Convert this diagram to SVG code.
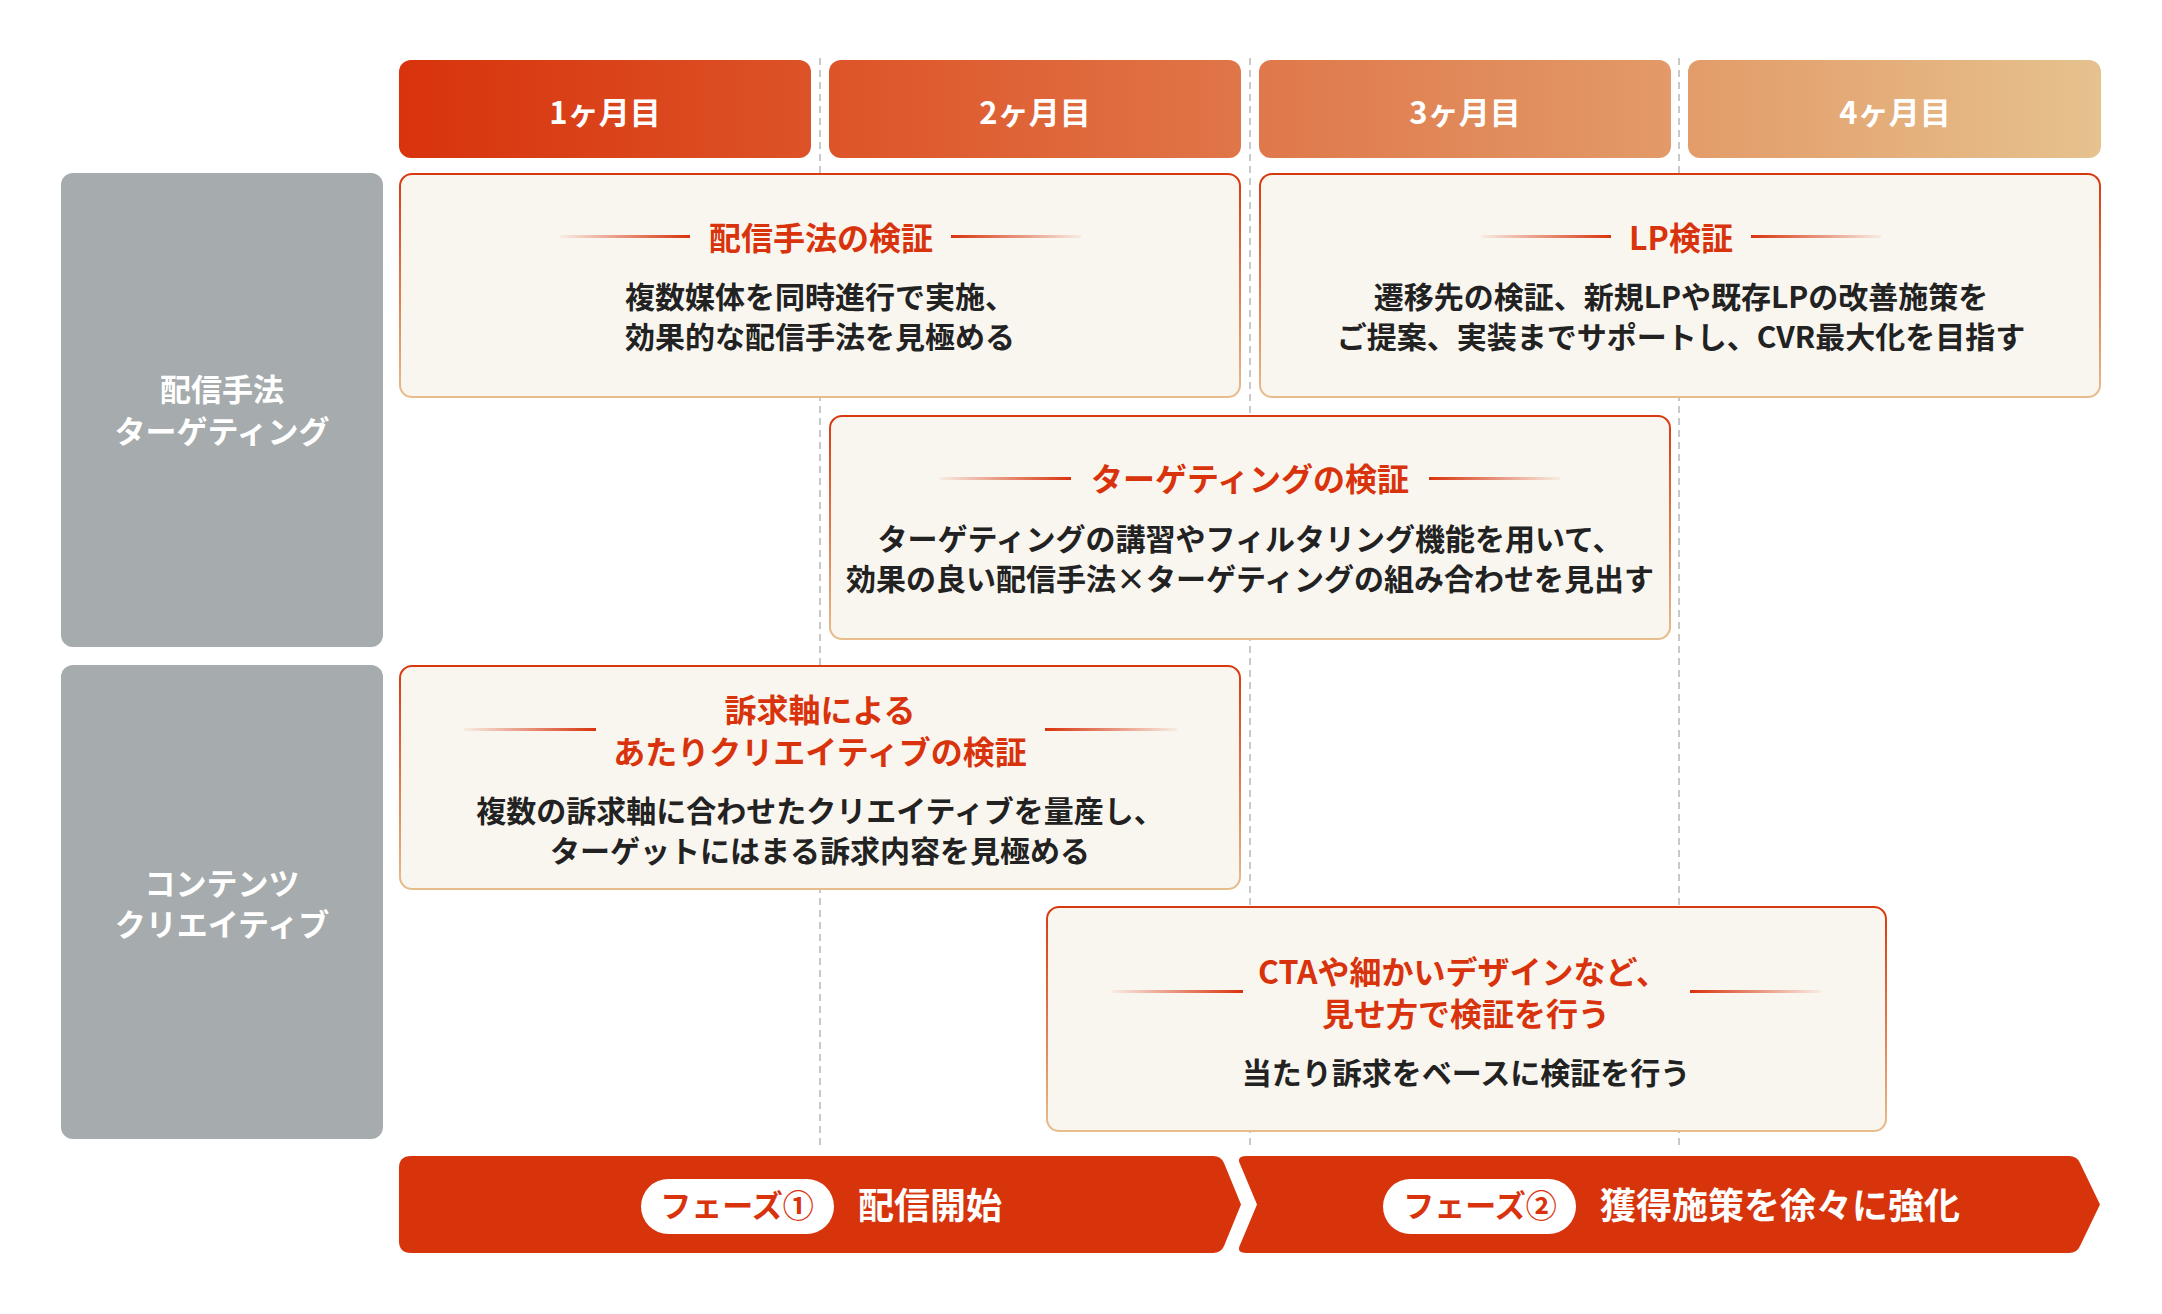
<svg xmlns="http://www.w3.org/2000/svg" width="2162" height="1314" viewBox="0 0 2162 1314">
<defs>
<linearGradient id="hdr" gradientUnits="userSpaceOnUse" x1="399" y1="0" x2="2101" y2="0">
<stop offset="0" stop-color="#d8330c"/>
<stop offset="0.3" stop-color="#de5a2e"/>
<stop offset="0.55" stop-color="#e07e50"/>
<stop offset="0.8" stop-color="#e3a26f"/>
<stop offset="1" stop-color="#e6c28e"/>
</linearGradient>
<linearGradient id="bord" x1="0" y1="0" x2="0" y2="1">
<stop offset="0" stop-color="#d8380e"/>
<stop offset="0.5" stop-color="#e0784a"/>
<stop offset="1" stop-color="#e8bd8e"/>
</linearGradient>
<linearGradient id="decL" x1="0" y1="0" x2="1" y2="0">
<stop offset="0" stop-color="#d8330c" stop-opacity="0.05"/>
<stop offset="1" stop-color="#d8330c"/>
</linearGradient>
<linearGradient id="decR" x1="0" y1="0" x2="1" y2="0">
<stop offset="0" stop-color="#d8330c"/>
<stop offset="1" stop-color="#d8330c" stop-opacity="0.05"/>
</linearGradient>
<style>
text{font-family:"Noto Sans CJK JP","Noto Sans",sans-serif;font-weight:700;text-anchor:middle}
.hd{fill:url(#hdr)}
.ht{fill:#ffffff;font-size:31px}
.side{fill:#a6abad}
.st{fill:#ffffff;font-size:31px}
.box{fill:#f9f6ef;stroke:url(#bord);stroke-width:2}
.ti{fill:#d8330c;font-size:32px}
.bd{fill:#222222;font-size:30px}
.dl{fill:url(#decL)}
.dr{fill:url(#decR)}
.grid{stroke:#c9c9c9;stroke-width:2;stroke-dasharray:7 5;fill:none}
.bar{fill:#d7340c}
.pill{fill:#ffffff}
.pt{fill:#d8330c;font-size:31px}
.bt{fill:#ffffff;font-size:36px;text-anchor:start}
</style>
</defs>
<rect width="2162" height="1314" fill="#ffffff"/>
<g id="grid">
<line class="grid" x1="820" y1="58" x2="820" y2="1150"/>
<line class="grid" x1="1250" y1="58" x2="1250" y2="1150"/>
<line class="grid" x1="1679" y1="58" x2="1679" y2="1150"/>
</g>
<g id="header-1"><rect class="hd" x="399" y="60" width="412" height="98" rx="12"/><text class="ht" x="605" y="124">1ヶ月目</text></g>
<g id="header-2"><rect class="hd" x="829" y="60" width="412" height="98" rx="12"/><text class="ht" x="1035" y="124">2ヶ月目</text></g>
<g id="header-3"><rect class="hd" x="1259" y="60" width="412" height="98" rx="12"/><text class="ht" x="1465" y="124">3ヶ月目</text></g>
<g id="header-4"><rect class="hd" x="1688" y="60" width="413" height="98" rx="12"/><text class="ht" x="1895" y="124">4ヶ月目</text></g>
<g id="row-1"><rect class="side" x="61" y="173" width="322" height="474" rx="12"/><text class="st" x="222" y="401">配信手法</text><text class="st" x="222" y="443">ターゲティング</text></g>
<g id="row-2"><rect class="side" x="61" y="665" width="322" height="474" rx="12"/><text class="st" x="222" y="895">コンテンツ</text><text class="st" x="222" y="936">クリエイティブ</text></g>
<g id="box-method">
<rect class="box" x="400" y="174" width="840" height="223" rx="12"/>
<rect class="dl" x="560" y="235" width="130" height="3"/>
<rect class="dr" x="951" y="235" width="130" height="3"/>
<text class="ti" x="821" y="250">配信手法の検証</text>
<text class="bd" x="820" y="308">複数媒体を同時進行で実施、</text>
<text class="bd" x="820" y="348">効果的な配信手法を見極める</text>
</g>
<g id="box-lp">
<rect class="box" x="1260" y="174" width="840" height="223" rx="12"/>
<rect class="dl" x="1481" y="235" width="130" height="3"/>
<rect class="dr" x="1751" y="235" width="130" height="3"/>
<text class="ti" x="1681" y="250">LP検証</text>
<text class="bd" x="1681" y="308">遷移先の検証、新規LPや既存LPの改善施策を</text>
<text class="bd" x="1681" y="348">ご提案、実装までサポートし、CVR最大化を目指す</text>
</g>
<g id="box-targeting">
<rect class="box" x="830" y="416" width="840" height="223" rx="12"/>
<rect class="dl" x="940" y="477" width="131" height="3"/>
<rect class="dr" x="1429" y="477" width="131" height="3"/>
<text class="ti" x="1250" y="491">ターゲティングの検証</text>
<text class="bd" x="1250" y="550">ターゲティングの講習やフィルタリング機能を用いて、</text>
<text class="bd" x="1250" y="590">効果の良い配信手法×ターゲティングの組み合わせを見出す</text>
</g>
<g id="box-appeal">
<rect class="box" x="400" y="666" width="840" height="223" rx="12"/>
<rect class="dl" x="464" y="728" width="132" height="3"/>
<rect class="dr" x="1045" y="728" width="132" height="3"/>
<text class="ti" x="820" y="722">訴求軸による</text>
<text class="ti" x="820" y="764">あたりクリエイティブの検証</text>
<text class="bd" x="820" y="822">複数の訴求軸に合わせたクリエイティブを量産し、</text>
<text class="bd" x="820" y="862">ターゲットにはまる訴求内容を見極める</text>
</g>
<g id="box-cta">
<rect class="box" x="1047" y="907" width="839" height="224" rx="12"/>
<rect class="dl" x="1112" y="990" width="131" height="3"/>
<rect class="dr" x="1690" y="990" width="131" height="3"/>
<text class="ti" x="1463" y="984">CTAや細かいデザインなど、</text>
<text class="ti" x="1466" y="1026">見せ方で検証を行う</text>
<text class="bd" x="1466" y="1084">当たり訴求をベースに検証を行う</text>
</g>
<g id="phase-1">
<path class="bar" d="M 411,1156 H 1213 Q 1221,1156 1224,1163 L 1241,1204.5 L 1224,1246 Q 1221,1253 1213,1253 H 411 Q 399,1253 399,1241 V 1168 Q 399,1156 411,1156 Z"/>
<rect class="pill" x="641" y="1179" width="193" height="55" rx="27.5"/>
<text class="pt" x="737" y="1217">フェーズ①</text>
<text class="bt" x="858" y="1219">配信開始</text>
</g>
<g id="phase-2">
<path class="bar" d="M 1247,1156 H 2069 Q 2077,1156 2080,1163 L 2100,1204.5 L 2080,1246 Q 2077,1253 2069,1253 H 1247 Q 1236,1253 1240,1245 L 1257,1204.5 L 1240,1164 Q 1236,1156 1247,1156 Z"/>
<rect class="pill" x="1383" y="1179" width="193" height="55" rx="27.5"/>
<text class="pt" x="1480" y="1217">フェーズ②</text>
<text class="bt" x="1600" y="1219">獲得施策を徐々に強化</text>
</g>
</svg>
